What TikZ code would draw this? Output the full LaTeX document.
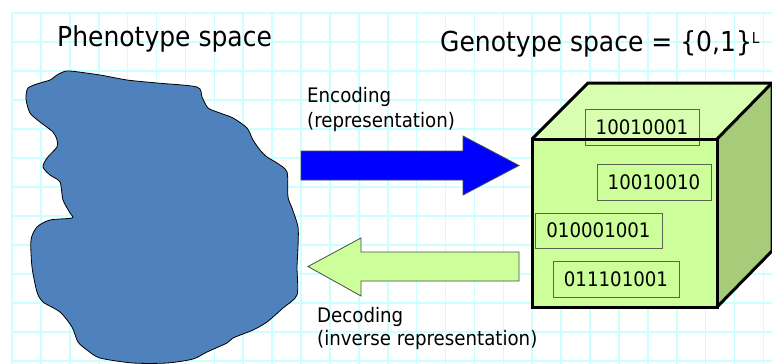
\documentclass[tikz,border=0pt]{standalone}
\usepackage{fontspec}
\setmainfont{DejaVu Sans}[FakeStretch=0.91]
\definecolor{gridc}{RGB}{204,255,255}
\definecolor{blobc}{RGB}{79,129,189}
\definecolor{frontc}{RGB}{204,255,153}
\definecolor{topc}{RGB}{216,255,176}
\definecolor{sidec}{RGB}{166,204,122}
\definecolor{boxline}{RGB}{90,100,80}
\definecolor{encc}{RGB}{0,0,255}
\definecolor{decc}{RGB}{204,255,153}
\begin{document}
\begin{tikzpicture}[x=1pt,y=-1pt,
  bigtext/.style={inner sep=0pt,anchor=base west,font=\fontsize{27.5}{33}\selectfont},
  smalltext/.style={inner sep=0pt,anchor=base west,font=\fontsize{20}{24}\selectfont},
  bitbox/.style={draw=boxline,line width=0.9pt,inner sep=0pt,minimum height=36pt,
    font=\fontsize{20}{24}\selectfont},
  cubeedge/.style={line width=3pt,line join=miter},
  bigarrow/.style={draw=black!70,line width=0.8pt}]
\useasboundingbox (0,0) rectangle (772,364);
\fill[white] (0,0) rectangle (772,364);

% squared paper
\foreach \k in {0,...,26}
  \draw[gridc,line width=1.6pt] (12+28.9*\k,13) -- (12+28.9*\k,364);
\foreach \k in {0,...,12}
  \draw[gridc,line width=1.6pt] (12,13+29*\k) -- (772,13+29*\k);

% headings
\node[bigtext] (pheno) at (57,46) {Phenotype space};
\node[bigtext] (geno) at (440,52)
  {Genotype space = \{0,1\}\raisebox{9pt}{\fontsize{15}{15}\selectfont L}};

% phenotype region
\draw[fill=blobc,draw=black,line width=0.8pt] plot[smooth cycle,tension=0.45] coordinates {
  (28,88) (40,83) (50,80) (57,75) (63,72) (70,71) (100,75) (127,80) (157,83)
  (197,87) (202,97) (208,108) (220,113) (233,118) (247,128) (253,140) (260,150)
  (267,157) (277,163) (287,172) (288,197) (292,208) (298,227) (298,247)
  (297,267) (297,295) (283,308) (267,322) (253,330) (233,338) (227,343)
  (207,352) (193,359) (167,363) (133,363) (100,358) (87,350) (78,342) (72,327)
  (60,312) (43,302) (37,292) (32,267) (31,240) (37,227) (50,220) (72,218)
  (70,213) (63,200) (60,182) (50,175) (43,167) (47,158) (57,147) (57,140)
  (53,132) (40,122) (30,113) (26,99)};

% encoding arrow and label
\draw[bigarrow,fill=encc] (301,151) -- (463,151) -- (463,136) -- (519,165.5)
  -- (463,195) -- (463,180) -- (301,180) -- cycle;
\node[smalltext] (enc1) at (307,102) {Encoding};
\node[smalltext] (enc2) at (307,127) {(representation)};

% decoding arrow and label
\draw[bigarrow,fill=decc] (519,252) -- (361,252) -- (361,238) -- (308,266.5)
  -- (361,296) -- (361,281) -- (519,281) -- cycle;
\node[smalltext] (dec1) at (317,322) {Decoding};
\node[smalltext] (dec2) at (317,345) {(inverse representation)};

% genotype cube: faces
\fill[topc] (532,139) -- (588,83) -- (772,83) -- (717,139) -- cycle;
\fill[sidec] (717,139) -- (772,83) -- (772,251) -- (717,307) -- cycle;
\fill[frontc] (532,139) rectangle (717,307);

% bit strings
\node[bitbox,minimum width=114pt] (s1) at (642,127) {10010001};
\node[bitbox,minimum width=114pt] (s2) at (654,182) {10010010};
\node[bitbox,minimum width=127pt,minimum height=35pt] (s3) at (598.5,230.5) {010001001};
\node[bitbox,minimum width=126pt] (s4) at (616,279) {011101001};

% genotype cube: edges
\draw[cubeedge] (532,139) rectangle (717,307);
\draw[cubeedge] (532,139) -- (588,83) -- (772,83) -- (772,251) -- (717,307);
\draw[cubeedge] (717,139) -- (772,83);
\end{tikzpicture}
\end{document}
